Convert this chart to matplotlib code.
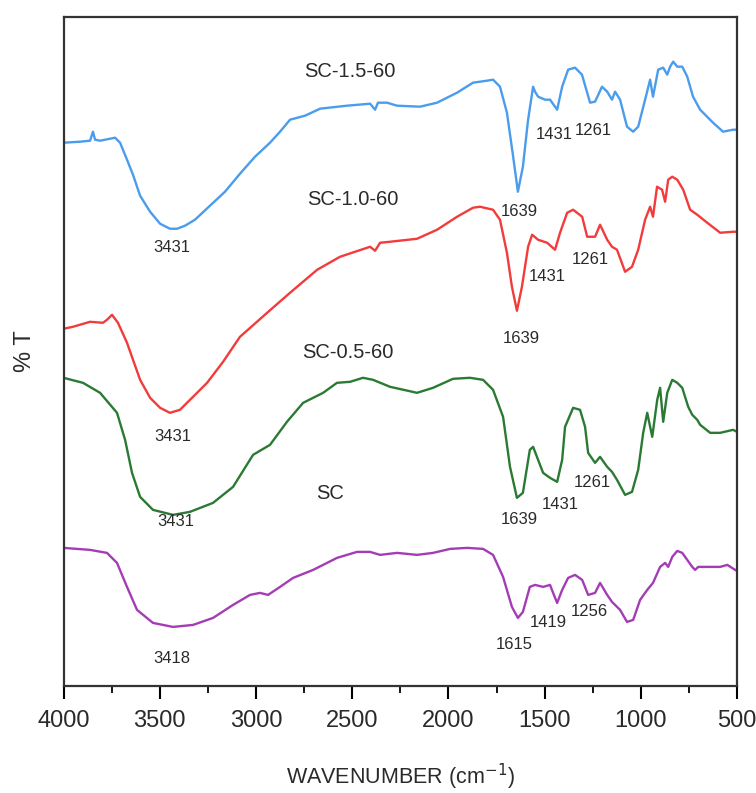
import matplotlib
matplotlib.use("Agg")
import matplotlib.pyplot as plt
from matplotlib.ticker import MultipleLocator

plt.rcParams['font.family'] = ['Liberation Sans', 'DejaVu Sans']

# SC-1.5-60 (blue)
wn_15 = [4000, 3914, 3862, 3847, 3836, 3810, 3758, 3732, 3706, 3670, 3639, 3602, 3550, 3498, 3447, 3410,
         3369, 3317, 3239, 3161, 3083, 3005, 2927, 2875, 2823, 2745, 2667, 2527, 2407, 2381, 2366, 2319,
         2267, 2147, 2059, 1955, 1872, 1799, 1768, 1732, 1696, 1665, 1639, 1613, 1586, 1560, 1550, 1534,
         1498, 1472, 1435, 1409, 1378, 1342, 1306, 1264, 1238, 1202, 1175, 1150, 1134, 1108, 1072, 1040,
         1014, 978, 952, 937, 910, 884, 863, 848, 832, 811, 785, 759, 729, 692, 625, 573, 521, 500]
t_15 = [543, 544, 545, 554, 546, 545, 547, 548, 543, 526, 511, 490, 474, 462, 457, 457,
        460, 466, 480, 494, 512, 529, 543, 554, 566, 570, 577, 580, 582, 576, 583, 583,
        580, 579, 583, 593, 603, 605, 606, 599, 573, 531, 494, 519, 566, 599, 594, 589,
        586, 586, 576, 599, 616, 618, 611, 583, 584, 599, 594, 586, 594, 586, 559, 554,
        559, 586, 606, 589, 616, 618, 611, 619, 624, 619, 619, 609, 589, 576, 563, 554, 556, 556]

# SC-1.0-60 (red)
wn_10 = [4000, 3951, 3862, 3795, 3774, 3748, 3717, 3670, 3602, 3550, 3498, 3447, 3395, 3327, 3254, 3171,
         3083, 2942, 2823, 2682, 2563, 2407, 2381, 2355, 2303, 2163, 2059, 1955, 1872, 1836, 1768, 1732,
         1696, 1670, 1644, 1618, 1586, 1565, 1534, 1487, 1446, 1420, 1383, 1352, 1305, 1279, 1238, 1212,
         1175, 1150, 1124, 1082, 1046, 1014, 978, 952, 937, 916, 890, 874, 858, 837, 811, 780,
         744, 707, 655, 588, 521, 500]
t_10 = [357, 359, 364, 363, 366, 371, 363, 343, 306, 288, 278, 273, 276, 289, 303, 324,
        349, 373, 393, 416, 429, 439, 435, 443, 444, 447, 456, 469, 478, 479, 476, 466,
        433, 399, 375, 399, 439, 451, 446, 443, 436, 453, 473, 476, 469, 449, 449, 461,
        446, 439, 436, 414, 419, 436, 466, 479, 469, 499, 496, 484, 506, 509, 506, 496,
        476, 471, 463, 453, 454, 454]

# SC-0.5-60 (green)
wn_05 = [4000, 3899, 3810, 3722, 3680, 3644, 3602, 3535, 3431, 3343, 3223, 3119, 3015, 2927, 2839, 2755,
         2651, 2579, 2511, 2444, 2392, 2303, 2163, 2080, 1976, 1888, 1820, 1768, 1716, 1680, 1644, 1613,
         1577, 1560, 1534, 1508, 1472, 1435, 1409, 1394, 1352, 1316, 1290, 1274, 1238, 1212, 1175, 1150,
         1124, 1082, 1046, 1014, 988, 967, 941, 915, 900, 884, 863, 837, 811, 785, 754, 733,
         707, 692, 640, 588, 521, 500]
t_05 = [308, 303, 293, 273, 246, 213, 189, 176, 171, 174, 183, 199, 231, 241, 264, 283,
        293, 303, 304, 308, 306, 299, 293, 298, 307, 308, 306, 296, 269, 219, 188, 193,
        236, 239, 226, 213, 208, 204, 226, 259, 278, 276, 259, 233, 223, 229, 219, 214,
        206, 191, 194, 216, 253, 273, 249, 286, 298, 264, 293, 306, 303, 298, 279, 271,
        266, 261, 253, 253, 256, 254]

# SC (purple)
wn_sc = [4000, 3862, 3774, 3722, 3670, 3618, 3535, 3431, 3327, 3223, 3119, 3031, 2979, 2937, 2875, 2807,
         2703, 2579, 2475, 2407, 2355, 2267, 2163, 2080, 1991, 1903, 1820, 1768, 1716, 1670, 1639, 1613,
         1577, 1550, 1508, 1472, 1456, 1435, 1409, 1378, 1342, 1305, 1274, 1238, 1212, 1175, 1150, 1108,
         1072, 1040, 1004, 967, 937, 900, 874, 858, 837, 811, 785, 759, 733, 718, 702, 655,
         588, 551, 510, 500]
t_sc = [138, 136, 133, 123, 99, 76, 63, 59, 61, 68, 81, 91, 93, 91, 99, 108,
        116, 128, 134, 134, 131, 133, 131, 133, 137, 138, 137, 131, 109, 79, 68, 74,
        99, 101, 99, 101, 93, 83, 96, 108, 111, 106, 91, 93, 103, 91, 84, 76,
        64, 66, 86, 96, 103, 119, 123, 119, 129, 135, 133, 126, 119, 116, 119, 119,
        119, 121, 116, 115]

names = ["SC-1.5-60", "SC-1.0-60", "SC-0.5-60", "SC"]
colors = ["#4a9cec", "#f23b3b", "#2b7a34", "#a43db5"]
name_pos = [(2512, 614), (2496, 486), (2522, 333), (2615, 192)]

# peak labels: (text, wavenumber, T)
peaks = [
    ("3431", 3436, 438), ("1639", 1634, 474), ("1431", 1452, 551), ("1261", 1248, 555),
    ("3431", 3431, 249), ("1639", 1623, 347), ("1431", 1487, 409), ("1261", 1264, 426),
    ("3431", 3415, 164), ("1639", 1634, 166), ("1431", 1420, 181), ("1261", 1253, 203),
    ("3418", 3436, 27), ("1615", 1660, 41), ("1419", 1483, 63), ("1256", 1269, 74),
]

fig = plt.figure(figsize=(7.56, 7.93), dpi=100)
ax = fig.add_axes([0.084, 0.135, 0.891, 0.844])

for wn, t, c in zip([wn_15, wn_10, wn_05, wn_sc], [t_15, t_10, t_05, t_sc], colors):
    ax.plot(wn, t, color=c, lw=1.7)

for n, (x, y) in zip(names, name_pos):
    ax.text(x, y, n, fontsize=14.5, ha='center', va='center', color='#2a2a2a')
for s, x, y in peaks:
    ax.text(x, y, s, fontsize=12, ha='center', va='center', color='#2a2a2a')

ax.set_xlim(4000, 500)
ax.set_ylim(0, 669)
ax.xaxis.set_major_locator(MultipleLocator(500))
ax.xaxis.set_minor_locator(MultipleLocator(250))
ax.tick_params(axis='x', which='major', direction='out', length=9, width=1.5, labelsize=17, pad=8,
               labelcolor='#2a2a2a')
ax.tick_params(axis='x', which='minor', direction='out', length=5, width=1.3)
ax.set_yticks([])
for sp in ax.spines.values():
    sp.set_linewidth(1.6)
    sp.set_color('#333333')

ax.set_xlabel("WAVENUMBER (cm$^{-1}$)", fontsize=15.5, labelpad=22, color='#2a2a2a')
ax.set_ylabel("% T", fontsize=17, labelpad=20, color='#2a2a2a')

fig.savefig("out.png", dpi=100)
